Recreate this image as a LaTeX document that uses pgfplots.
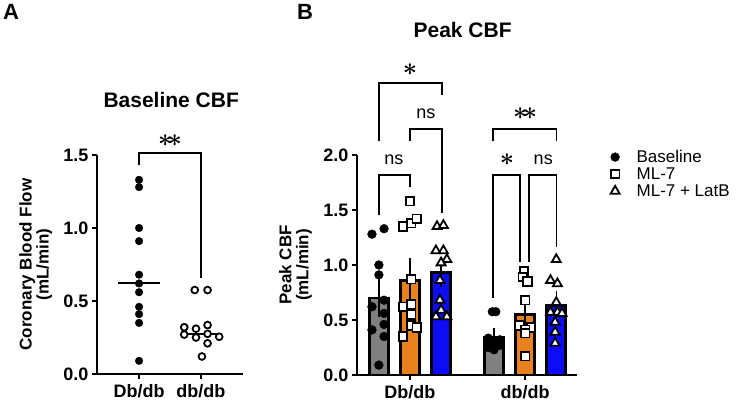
\documentclass[border=0pt]{standalone}
\usepackage{fontspec}
\setmainfont{Liberation Sans}
\usepackage{pgfplots}
\pgfplotsset{compat=1.18}

\definecolor{cgray}{RGB}{128,128,128}
\definecolor{corange}{RGB}{232,130,30}
\definecolor{cblue}{RGB}{12,12,245}
\newcommand{\fs}[1]{\fontsize{#1}{#1}\selectfont}
\newcommand{\st}{{\fs{26}\boldmath$\ast$}}
\newcommand{\sst}{{\fs{26}\boldmath$\ast\mkern-3mu\ast$}}

\pgfplotsset{
  gpstyle/.style={
    scale only axis,
    axis lines=left,
    axis line style={-, line width=1.6pt},
    tick style={line width=1.6pt, black},
    major tick length=5pt,
    tick align=outside,
    clip=false,
    ymin=0,
    ytick distance=0.5,
    /pgf/number format/assume math mode=true,
    yticklabel style={font=\fs{18}\bfseries, /pgf/number format/fixed, /pgf/number format/fixed zerofill, /pgf/number format/precision=1},
    xticklabel style={font=\fs{18}\bfseries, yshift=-2pt},
    xtick={0,1},
    xticklabels={Db/db,db/db},
    ylabel style={align=center, font=\fs{17}\bfseries, anchor=center},
  }
}

\begin{document}
\begin{tikzpicture}
\useasboundingbox (0,0) rectangle (740pt,403pt);
\node[font=\fs{22}\bfseries] at (11pt,391pt) {A};
\node[font=\fs{22}\bfseries] at (305pt,391pt) {B};

% ---------- Panel A ----------
\begin{axis}[gpstyle, at={(97pt,29pt)}, anchor=south west,
  width=146pt, height=219pt, xmin=-0.68, xmax=1.68, ymax=1.5,
  ylabel={Coronary Blood Flow\\(mL/min)},
  ylabel style={at={(axis description cs:-0.42,0.5)}}]
\addplot[only marks, mark=*, mark size=3.8pt, black] coordinates {
 (0,1.33) (0,1.28) (0,1.00) (0,0.91) (0,0.68) (0,0.62) (0,0.56) (0,0.46) (0,0.41) (0,0.35) (0,0.09)};
\addplot[only marks, mark=*, mark size=3.4pt, black, line width=1.8pt, mark options={fill=white}] coordinates {
 (0.90,0.575) (1.107,0.575) (0.73,0.32) (0.92,0.31) (1.107,0.335) (0.73,0.27) (0.92,0.25) (1.107,0.275) (1.295,0.255) (1.107,0.21) (1.016,0.12)};
\addplot[line width=2pt] coordinates {(-0.34,0.62) (0.34,0.62)};
\addplot[line width=2pt] coordinates {(0.66,0.275) (1.34,0.275)};
\addplot[line width=1.8pt] coordinates {(0,1.43) (0,1.514) (1,1.514) (1,0.66)};
\node[inner sep=0pt] at (axis cs:0.5,1.60) {\sst};
\node[font=\fs{21}\bfseries] at (axis cs:0.52,1.877) {Baseline CBF};
\end{axis}

% ---------- Panel B ----------
\begin{axis}[gpstyle, at={(357pt,28pt)}, anchor=south west,
  width=220pt, height=220pt, xmin=-0.46, xmax=1.45, ymax=2.0,
  ylabel={Peak CBF\\(mL/min)},
  ylabel style={at={(axis description cs:-0.28,0.5)}},
  legend style={draw=none, fill=none, at={(axis description cs:1.152,1.03)}, anchor=north west,
    font=\fs{17}, inner sep=0pt, row sep=0pt,
    nodes={inner sep=1pt, text height=12.5pt, text depth=2.5pt},
    /tikz/every odd column/.append style={column sep=16pt}},
  legend cell align=left]
\addplot[ybar, bar shift=0pt, bar width=19pt, fill=cgray, draw=black, line width=2.8pt, forget plot,
  error bars/.cd, y dir=both, y explicit, error bar style={line width=1.5pt, black},
  error mark options={line width=1.5pt, mark size=5.5pt, black}]
  coordinates {(-0.27,0.70) +- (0,0.12) (0.73,0.34) +- (0,0.04)};
\addplot[ybar, bar shift=0pt, bar width=19pt, fill=corange, draw=black, line width=2.8pt, forget plot,
  error bars/.cd, y dir=both, y explicit, error bar style={line width=1.5pt, black},
  error mark options={line width=1.5pt, mark size=5.5pt, black}]
  coordinates {(0,0.86) +- (0,0.15) (1,0.55) +- (0,0.10)};
\addplot[ybar, bar shift=0pt, bar width=19pt, fill=cblue, draw=black, line width=2.8pt, forget plot,
  error bars/.cd, y dir=both, y explicit, error bar style={line width=1.5pt, black},
  error mark options={line width=1.5pt, mark size=5.5pt, black}]
  coordinates {(0.27,0.93) +- (0,0.08) (1.27,0.63) +- (0,0.08)};

\addplot[only marks, mark=*, mark size=4.4pt, black] coordinates {
 (-0.225,1.33) (-0.33,1.28) (-0.27,1.00) (-0.27,0.91) (-0.225,0.68) (-0.33,0.62) (-0.225,0.56) (-0.225,0.46) (-0.33,0.41) (-0.225,0.35) (-0.27,0.09)
 (0.715,0.575) (0.745,0.575) (0.68,0.335) (0.78,0.32) (0.73,0.31) (0.68,0.275) (0.78,0.27) (0.73,0.255) (0.68,0.25) (0.73,0.23)};
\addlegendentry{Baseline}
\addplot[only marks, mark=square*, mark size=4.3pt, black, line width=1.8pt, mark options={fill=white}] coordinates {
 (0,1.58) (-0.06,1.35) (0.01,1.38) (0.06,1.42) (0.01,0.87) (-0.06,0.62) (0.01,0.64) (0.01,0.55) (0.01,0.45) (0.06,0.43) (-0.06,0.35)
 (0.99,0.94) (0.98,0.89) (1.02,0.85) (1.0,0.68) (0.95,0.45) (1.05,0.43) (1.0,0.41) (1.0,0.38) (1.0,0.17)};
\addlegendentry{ML-7}
\addplot[only marks, mark=triangle*, mark size=5.2pt, black, line width=1.8pt, mark options={fill=white}] coordinates {
 (0.235,1.35) (0.29,1.36) (0.225,1.13) (0.29,1.13) (0.32,1.05) (0.27,1.02) (0.26,0.86) (0.26,0.68) (0.27,0.59) (0.225,0.53) (0.32,0.53)
 (1.27,1.05) (1.22,0.86) (1.28,0.83) (1.27,0.66) (1.22,0.57) (1.28,0.57) (1.32,0.56) (1.26,0.48) (1.26,0.39) (1.26,0.29)};
\addlegendentry{ML-7 + LatB}

% brackets
\addplot[line width=1.5pt, forget plot] coordinates {(-0.27,2.127) (-0.27,2.655) (0.278,2.655) (0.278,2.545)};
\addplot[line width=1.5pt, forget plot] coordinates {(0,2.127) (0,2.236) (0.278,2.236) (0.278,1.473)};
\addplot[line width=1.5pt, forget plot] coordinates {(-0.27,1.455) (-0.27,1.818) (0,1.818) (0,1.709)};
\addplot[line width=1.5pt, forget plot] coordinates {(0.722,2.127) (0.722,2.236) (1.27,2.236) (1.27,2.127)};
\addplot[line width=1.5pt, forget plot] coordinates {(0.722,0.70) (0.722,1.818) (0.957,1.818) (0.957,1.03)};
\addplot[line width=1.5pt, forget plot] coordinates {(1.035,1.03) (1.035,1.818) (1.27,1.818) (1.27,1.16)};
\node[inner sep=0pt] at (axis cs:0,2.78) {\st};
\node[inner sep=0pt, anchor=base, font=\fs{18}] at (axis cs:0.139,2.336) {ns};
\node[inner sep=0pt, anchor=base, font=\fs{18}] at (axis cs:-0.139,1.91) {ns};
\node[inner sep=0pt] at (axis cs:1.0,2.38) {\sst};
\node[inner sep=0pt] at (axis cs:0.843,1.955) {\st};
\node[inner sep=0pt, anchor=base, font=\fs{18}] at (axis cs:1.157,1.91) {ns};
\node[font=\fs{21}\bfseries] at (axis description cs:0.48,1.568) {Peak CBF};
\end{axis}
\end{tikzpicture}
\end{document}
